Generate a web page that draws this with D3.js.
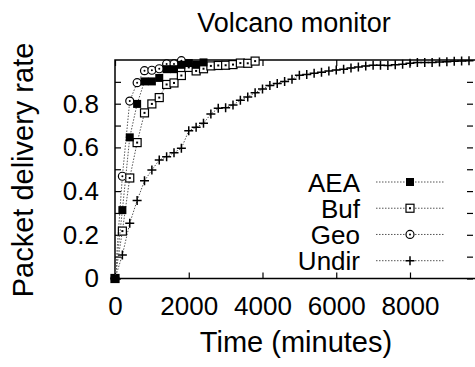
<!DOCTYPE html>
<html>
<head>
<meta charset="utf-8">
<script src="https://cdn.jsdelivr.net/npm/d3@7"></script>
<style>
  body { margin: 0; background: #fff; }
  svg { display: block; font-family: "Liberation Sans", Arial, Helvetica, sans-serif; }
</style>
</head>
<body>
<div id="chart"></div>
<script>
const aeaTime = [0, 200, 400, 600, 800, 1000, 1200, 1400, 1600, 1800, 2000, 2200, 2400];
const aeaRate = [0, 0.313, 0.646, 0.799, 0.902, 0.902, 0.918, 0.958, 0.958, 0.978, 0.986, 0.978, 0.989];

const bufTime = [0, 200, 400, 600, 800, 1000, 1200, 1400, 1600, 1800, 2000, 2200, 2400, 2600, 2800, 3000, 3200, 3400, 3600, 3800];
const bufRate = [0, 0.217, 0.46, 0.622, 0.758, 0.799, 0.828, 0.888, 0.895, 0.929, 0.966, 0.95, 0.96, 0.973, 0.975, 0.976, 0.979, 0.986, 0.985, 0.995];

const geoTime = [0, 200, 400, 600, 800, 1000, 1200, 1400, 1600, 1800];
const geoRate = [0, 0.468, 0.812, 0.896, 0.951, 0.953, 0.96, 0.982, 0.982, 0.997];

const undirTime = [0, 200, 400, 600, 800, 1000, 1200, 1400, 1600, 1800, 2000, 2200, 2400, 2600, 2800, 3000,
  3200, 3400, 3600, 3800, 4000, 4200, 4400, 4600, 4800, 5000, 5200, 5400, 5600, 5800, 6000, 6200, 6400,
  6600, 6800, 7000, 7200, 7400, 7600, 7800, 8000, 8200, 8400, 8600, 8800, 9000, 9200, 9400, 9600];
const undirRate = [0, 0.108, 0.253, 0.357, 0.447, 0.497, 0.542, 0.557, 0.576, 0.596, 0.676, 0.692, 0.71, 0.753, 0.779, 0.782,
  0.794, 0.816, 0.831, 0.85, 0.867, 0.883, 0.893, 0.902, 0.912, 0.93, 0.934, 0.939, 0.944, 0.95, 0.954, 0.958, 0.963,
  0.968, 0.973, 0.976, 0.976, 0.975, 0.978, 0.98, 0.985, 0.988, 0.988, 0.989, 0.991, 0.992, 0.994, 0.995, 0.997];

const seriesNames = ['AEA', 'Buf', 'Geo', 'Undir'];
const xTicks = [0, 2000, 4000, 6000, 8000];
const yTicks = [0, 0.1, 0.2, 0.3, 0.4, 0.5, 0.6, 0.7, 0.8, 0.9];
const yLabels = [0, 0.2, 0.4, 0.6, 0.8];

const W = 475, H = 367;
const plot = { left: 115, right: 476, top: 60, bottom: 278.5 };

const svg = d3.select('#chart').append('svg')
  .attr('width', W)
  .attr('height', H);

const x = d3.scaleLinear().domain([0, 9790]).range([plot.left, plot.right]);
const y = d3.scaleLinear().domain([0, 1]).range([plot.bottom, plot.top]);

// ticks (gnuplot style, pointing inward on all four sides)
const tickStyle = g => {
  g.select('.domain').remove();
  g.selectAll('.tick line').attr('stroke', '#000').attr('stroke-width', 1.2);
  g.selectAll('.tick text').attr('fill', '#000').style('font-size', '26px').attr('font-family', null);
};

svg.append('g')
  .attr('transform', `translate(0,${plot.bottom})`)
  .call(d3.axisBottom(x).tickValues(xTicks).tickSize(-6).tickSizeOuter(0).tickPadding(18).tickFormat(d3.format('d')))
  .call(tickStyle);

svg.append('g')
  .attr('transform', `translate(0,${plot.top})`)
  .call(d3.axisTop(x).tickValues(xTicks).tickSize(-6).tickSizeOuter(0).tickFormat(''))
  .call(tickStyle);

svg.append('g')
  .attr('transform', `translate(${plot.left},0)`)
  .call(d3.axisLeft(y).tickValues(yTicks).tickSize(-6).tickSizeOuter(0).tickPadding(16)
    .tickFormat(d => yLabels.some(v => Math.abs(v - d) < 1e-9) ? String(+d.toFixed(1)) : ''))
  .call(tickStyle);

svg.append('g')
  .attr('transform', `translate(${plot.right - 3},0)`)
  .call(d3.axisRight(y).tickValues(yTicks).tickSize(-6).tickSizeOuter(0).tickFormat(''))
  .call(tickStyle);

// frame
svg.append('rect')
  .attr('x', plot.left).attr('y', plot.top)
  .attr('width', plot.right - plot.left).attr('height', plot.bottom - plot.top)
  .attr('fill', 'none').attr('stroke', '#000').attr('stroke-width', 1.5);

// markers
function drawMarker(g, kind, cx, cy) {
  if (kind === 'AEA') {
    g.append('rect').attr('x', cx - 4).attr('y', cy - 4).attr('width', 8).attr('height', 8).attr('fill', '#000');
  } else if (kind === 'Buf') {
    g.append('rect').attr('x', cx - 4).attr('y', cy - 4).attr('width', 8).attr('height', 8)
      .attr('fill', '#fff').attr('stroke', '#000').attr('stroke-width', 1.2);
    g.append('rect').attr('x', cx - 1).attr('y', cy - 1).attr('width', 2).attr('height', 2).attr('fill', '#000');
  } else if (kind === 'Geo') {
    g.append('circle').attr('cx', cx).attr('cy', cy).attr('r', 4)
      .attr('fill', '#fff').attr('stroke', '#000').attr('stroke-width', 1.2);
    g.append('circle').attr('cx', cx).attr('cy', cy).attr('r', 1).attr('fill', '#000');
  } else {
    g.append('path').attr('d', `M${cx - 4.5},${cy}H${cx + 4.5}M${cx},${cy - 4.5}V${cy + 4.5}`)
      .attr('stroke', '#000').attr('stroke-width', 1.5);
  }
}

const series = [
  { name: 'Undir', t: undirTime, v: undirRate },
  { name: 'Geo', t: geoTime, v: geoRate },
  { name: 'Buf', t: bufTime, v: bufRate },
  { name: 'AEA', t: aeaTime, v: aeaRate }
];

const line = d3.line()
  .x(d => x(d[0]))
  .y(d => y(d[1]));

series.forEach(s => {
  const pts = s.t.map((t, i) => [t, s.v[i]]);
  svg.append('path')
    .datum(pts)
    .attr('fill', 'none')
    .attr('stroke', '#555')
    .attr('stroke-width', 1)
    .attr('stroke-dasharray', '1.5,1.5')
    .attr('d', line);
  const g = svg.append('g');
  pts.forEach(p => drawMarker(g, s.name, x(p[0]), y(p[1])));
});

// legend
const legendY = d3.scalePoint().domain(seriesNames).range([182, 260.7]);
const legend = svg.append('g');
seriesNames.forEach(name => {
  const ly = legendY(name);
  legend.append('text')
    .attr('x', 360).attr('y', ly + 9.5)
    .attr('text-anchor', 'end')
    .style('font-size', '26px')
    .text(name);
  legend.append('line')
    .attr('x1', 376).attr('x2', 444).attr('y1', ly).attr('y2', ly)
    .attr('stroke', '#555').attr('stroke-width', 1).attr('stroke-dasharray', '1.5,1.5');
  drawMarker(legend, name, 410, ly);
});

// titles
svg.append('text')
  .attr('x', 294).attr('y', 32)
  .attr('text-anchor', 'middle')
  .style('font-size', '27px')
  .text('Volcano monitor');

svg.append('text')
  .attr('x', 296).attr('y', 352)
  .attr('text-anchor', 'middle')
  .style('font-size', '29px')
  .text('Time (minutes)');

svg.append('text')
  .attr('transform', 'translate(33,170) rotate(-90)')
  .attr('text-anchor', 'middle')
  .style('font-size', '29px')
  .text('Packet delivery rate');
</script>
</body>
</html>
